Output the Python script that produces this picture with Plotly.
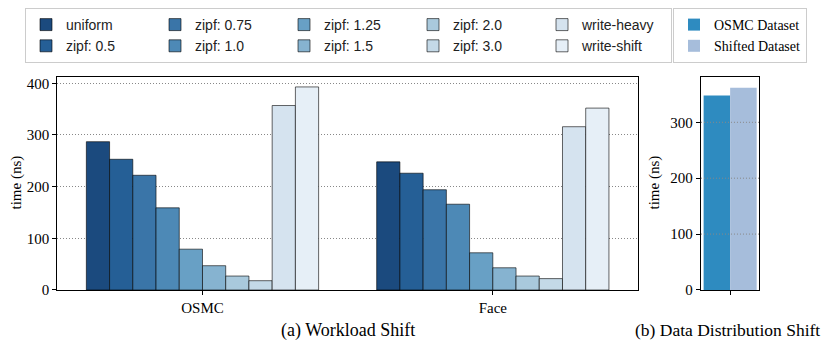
import plotly.graph_objects as go

# workload shift panel
datasets = ["OSMC", "Face"]
workloads = ["uniform", "zipf: 0.5", "zipf: 0.75", "zipf: 1.0", "zipf: 1.25",
             "zipf: 1.5", "zipf: 2.0", "zipf: 3.0", "write-heavy", "write-shift"]
osmc_times = [287, 253, 222, 159, 79, 47, 27, 18, 357, 393]
face_times = [248, 226, 194, 166, 72, 43, 27, 22, 316, 352]
workload_colors = ["#1b4a7e", "#255f96", "#3a75a8", "#4d89b6", "#68a0c5",
                   "#86b3d0", "#a9c9dc", "#c4d9e7", "#d5e3ef", "#e6eff7"]
# matplotlib-style column-wise legend order (5 columns x 2 rows)
legend_ranks = [1, 6, 2, 7, 3, 8, 4, 9, 5, 10]

# data distribution shift panel
dist_labels = ["OSMC Dataset", "Shifted Dataset"]
dist_times = [348, 362]
dist_colors = ["#2e8bc0", "#a6bddb"]

left_ticks = [0, 100, 200, 300, 400]
right_ticks = [0, 100, 200, 300]

SERIF = "Liberation Serif"
SANS = "Liberation Sans"
GRID_DASH = "1px,2px"

fig = go.Figure()

for name, a, b, c, rank in zip(workloads, osmc_times, face_times, workload_colors, legend_ranks):
    fig.add_trace(go.Bar(
        x=datasets,
        y=[a, b],
        name=name,
        marker=dict(color=c, line=dict(color="rgba(0,0,0,0.6)", width=1)),
        legendrank=rank,
        legend="legend",
        xaxis="x",
        yaxis="y",
    ))

for name, v, c in zip(dist_labels, dist_times, dist_colors):
    fig.add_trace(go.Bar(
        x=["dist"],
        y=[v],
        name=name,
        marker=dict(color=c, line=dict(width=0)),
        legend="legend2",
        xaxis="x2",
        yaxis="y2",
    ))

axis_common = dict(
    showline=True, linecolor="black", linewidth=1.25, mirror=True,
    ticks="outside", ticklen=4, tickcolor="black", tickwidth=1,
    tickfont=dict(family=SERIF, size=15, color="black"),
    zeroline=False,
)

# the page body adds an 8px margin, so the figure sits at (8, 8)
fig.update_layout(
    width=815,
    height=333,
    margin=dict(l=17, r=48, t=0, b=0, autoexpand=False),
    paper_bgcolor="white",
    plot_bgcolor="white",
    barmode="group",
    bargap=0.2,
    bargroupgap=0,
    xaxis=dict(domain=[0.0431, 0.8173], range=[-0.5, 1.5], showgrid=False, **axis_common),
    yaxis=dict(domain=[0.1532, 0.7937], range=[0, 412.8], tickvals=left_ticks,
               showgrid=True, gridcolor="#888888", griddash=GRID_DASH, gridwidth=1, **axis_common),
    xaxis2=dict(domain=[0.9013, 0.9791], anchor="y2", range=[-0.44, 0.44], showgrid=False,
                showticklabels=False, **axis_common),
    yaxis2=dict(domain=[0.1532, 0.7937], anchor="x2", range=[0, 381.6], tickvals=right_ticks,
                showgrid=False, **axis_common),
    legend=dict(
        orientation="h", x=0, y=1.0, xanchor="left", yanchor="top",
        entrywidth=84, traceorder="normal",
        bordercolor="#cccccc", borderwidth=1, bgcolor="white",
        font=dict(family=SANS, size=14, color="#222222"),
    ),
    legend2=dict(
        orientation="v", x=0.864, y=1.0, xanchor="left", yanchor="top",
        bordercolor="#cccccc", borderwidth=1, bgcolor="white",
        font=dict(family=SERIF, size=14, color="black"),
    ),
)

# dotted grid drawn over the bars in the right panel
for t in right_ticks[1:]:
    fig.add_shape(type="line", xref="x2 domain", yref="y2", x0=0, x1=1, y0=t, y1=t,
                  line=dict(color="#888888", width=1, dash=GRID_DASH), layer="above")

fig.add_annotation(text="time (ns)", textangle=-90, xref="paper", yref="paper",
                   x=-0.0107, y=0.476, xanchor="center", yanchor="middle", showarrow=False,
                   font=dict(family=SERIF, size=15, color="black"))
fig.add_annotation(text="time (ns)", textangle=-90, xref="paper", yref="paper",
                   x=0.8387, y=0.476, xanchor="center", yanchor="middle", showarrow=False,
                   font=dict(family=SERIF, size=15, color="black"))
fig.add_annotation(text="(a) Workload Shift", xref="paper", yref="paper",
                   x=0.43, y=0.033, xanchor="center", yanchor="middle", showarrow=False,
                   font=dict(family=SERIF, size=18, color="black"))
fig.add_annotation(text="(b) Data Distribution Shift", xref="paper", yref="paper",
                   x=0.9373, y=0.033, xanchor="center", yanchor="middle", showarrow=False,
                   font=dict(family=SERIF, size=17.5, color="black"))

fig.write_html("out.html")
